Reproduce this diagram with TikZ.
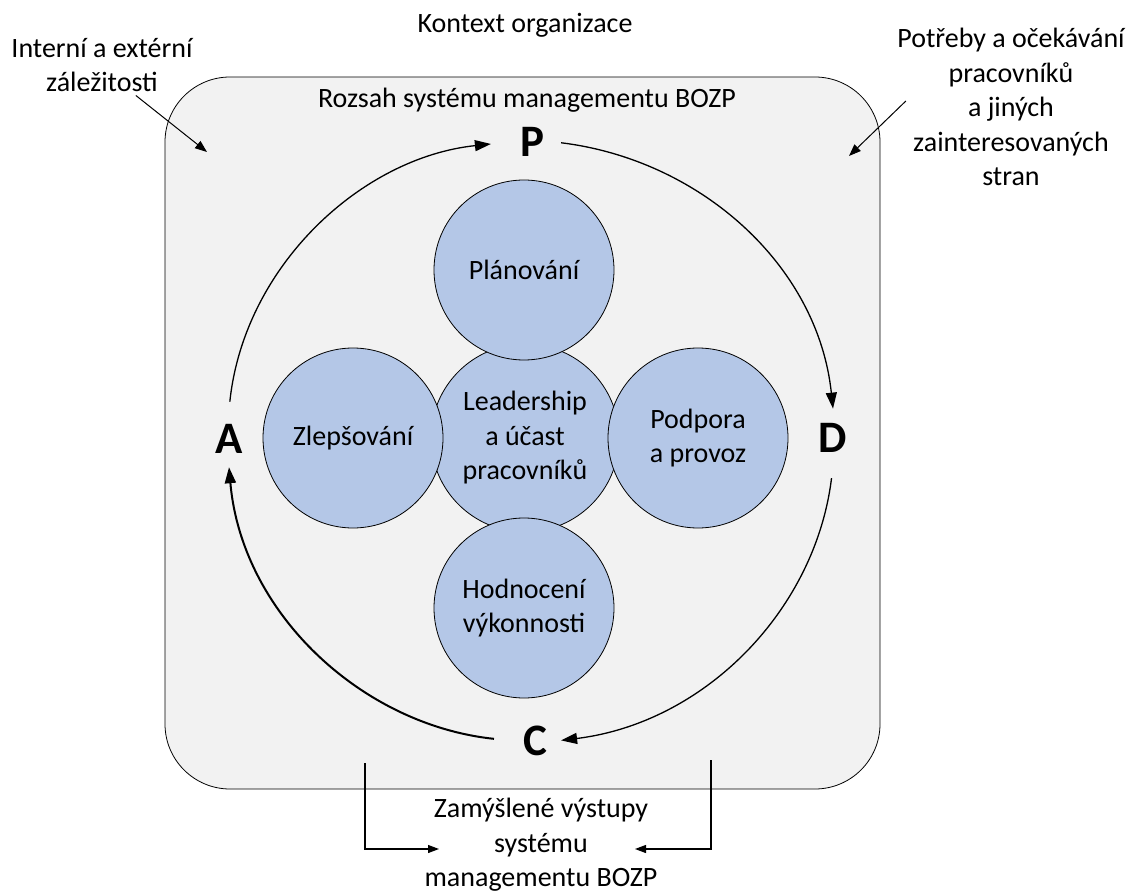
\documentclass[tikz,border=0pt]{standalone}
\usepackage{fontspec}
\setmainfont{Carlito}
\usetikzlibrary{arrows.meta}

\definecolor{scopegray}{HTML}{F2F2F2}
\definecolor{procblue}{HTML}{B4C7E7}

\begin{document}
\begin{tikzpicture}[x=1pt, y=1pt,
    every node/.style={font=\fontsize{28}{34.5}\selectfont, align=center},
    proc/.style={circle, draw, fill=procblue, line width=0.8pt, minimum size=180pt, inner sep=0pt},
    pdca/.style={font=\fontsize{45}{50}\selectfont\bfseries, inner sep=14pt, anchor=base},
    cycle/.style={line width=1.3pt, -{Triangle[length=16pt, width=11pt]}, looseness=0.96},
    note/.style={line width=1pt, -{Triangle[length=12pt, width=9pt]}},
    outflow/.style={line width=1.2pt, -{Triangle[length=11pt, width=8pt]}}]
    \useasboundingbox (0,0) rectangle (1133,-893);
    % Scope of the OH&S management system
    \draw[fill=scopegray, line width=0.8pt, rounded corners=65pt] (165,-77) rectangle (880,-789);
    \node[anchor=base] (ctx) at (525,-33) {Kontext organizace};
    \node[anchor=base] (scope) at (527,-108) {Rozsah systému managementu BOZP};
    \node (ext) at (102,-65) {Interní a extérní\\záležitosti};
    \node (needs) at (1011,-107) {Potřeby a očekávání\\pracovníků\\a jiných\\zainteresovaných\\stran};
    \node (out) at (541,-845) {Zamýšlené výstupy\\systému\\managementu BOZP};
    % Circles: leadership first, the four around it on top
    \node[proc, minimum size=188pt] (lead) at (525,-438) {Leadership\\a účast\\pracovníků};
    \node[proc] (plan) at (524,-270) {Plánování};
    \node[proc] (improve) at (353,-438) {Zlepšování};
    \node[proc] (support) at (698,-438) {Podpora\\a provoz};
    \node[proc] (eval) at (524,-608) {Hodnocení\\výkonnosti};
    % PDCA letters
    \node[pdca] (P) at (532,-157) {P};
    \node[pdca] (D) at (833,-452) {D};
    \node[pdca] (C) at (535,-755) {C};
    \node[pdca] (A) at (229,-453) {A};
    % PDCA cycle
    \draw[cycle, shorten <=8pt, shorten >=15pt] (A.north) to[out=84, in=186] (P.west);
    \draw[cycle, shorten <=3pt] (P.east) to[out=-7, in=96] (D.north);
    \draw[cycle, shorten <=12pt] (D.south) to[out=-97, in=7] (C.east);
    \draw[cycle, line width=2pt, shorten <=15pt] (C.west) to[out=174, in=-85] (A.south);
    % Inputs from outside
    \coordinate (extTip) at (207,-152);
    \draw[note] (ext.-42) -- (extTip);
    \coordinate (needsTip) at (849,-156);
    \draw[note] ([xshift=12pt, yshift=6pt]needs.west) -- (needsTip);
    % Intended outcomes
    \coordinate (outL) at (365,-763);
    \coordinate (outLTip) at (439,-849);
    \draw[outflow] (outL) |- (outLTip);
    \coordinate (outR) at (711,-760);
    \coordinate (outRTip) at (635,-849);
    \draw[outflow] (outR) |- (outRTip);
\end{tikzpicture}
\end{document}
